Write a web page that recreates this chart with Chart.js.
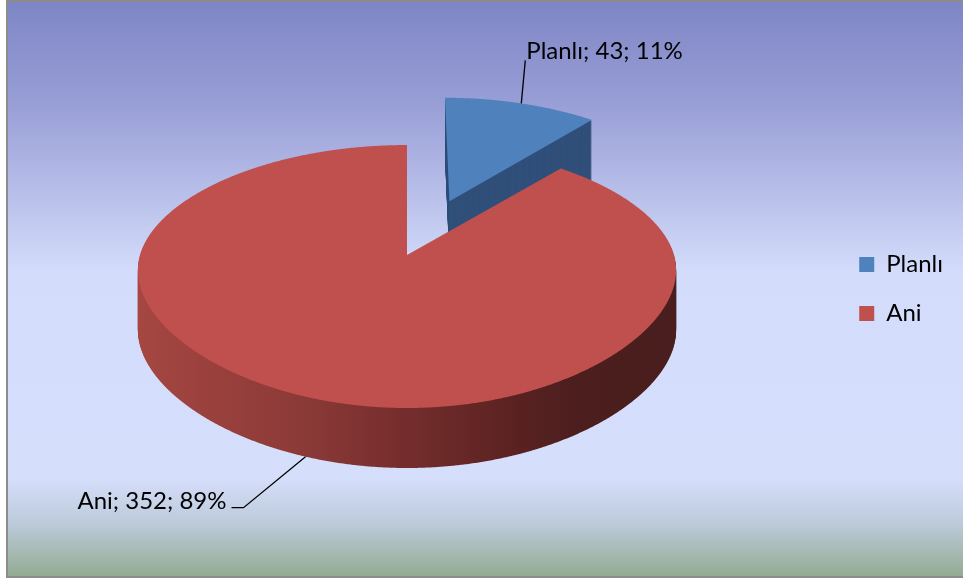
<!DOCTYPE html>
<html><head><meta charset="utf-8">
<script src="https://cdn.jsdelivr.net/npm/chart.js@4.4.1/dist/chart.umd.min.js"></script>
<style>
html,body{margin:0;padding:0;background:#ffffff;}
canvas{display:block;}
</style></head><body>
<canvas id="c" width="963" height="581"></canvas>
<script>
// ---- data ----
const categories = ['Planlı', 'Ani'];
const values = [43, 352];
const sliceColors = ['#4F81BD', '#C0504D'];
const explodeOffsets = [116, 0];

// ---- style / geometry of the pseudo-3D view ----
const VIEW = { cx: 407, cy: 255, a: 267, b: 117.5, distX: 8, distBack: 14.6, distFront: 4.31, depth: 60 };
const FONT = '24px Lato, "Open Sans", sans-serif';

function proj(u, w) {
  const fx = VIEW.distX / (VIEW.distX - w);
  const D = w < 0 ? VIEW.distBack : VIEW.distFront;
  const fy = D / (D - w);
  return [VIEW.cx + VIEW.a * u * fx, VIEW.cy + VIEW.b * w * fy];
}

function slicePath(ctx, s, dy) {
  ctx.beginPath();
  let p = proj(s.ox, s.ow);
  ctx.moveTo(p[0], p[1] + dy);
  const n = Math.max(12, Math.ceil((s.end - s.start) / 0.005));
  for (let i = 0; i <= n; i++) {
    const ang = s.start + (s.end - s.start) * i / n;
    p = proj(s.ox + Math.cos(ang), s.ow + Math.sin(ang));
    ctx.lineTo(p[0], p[1] + dy);
  }
  ctx.closePath();
}

const bgPlugin = {
  id: 'bg',
  beforeDraw(chart) {
    const ctx = chart.ctx;
    ctx.save();
    ctx.fillStyle = '#ffffff';
    ctx.fillRect(0, 0, chart.width, chart.height);
    const g = ctx.createLinearGradient(0, 2, 0, 576);
    g.addColorStop(0, '#7f86c5');
    g.addColorStop(0.17, '#979dd5');
    g.addColorStop(0.47, '#d3dcfb');
    g.addColorStop(0.83, '#d5defb');
    g.addColorStop(0.91, '#bccad9');
    g.addColorStop(1, '#93ab93');
    ctx.fillStyle = g;
    ctx.fillRect(8, 2, chart.width - 8, 574);
    ctx.fillStyle = '#8c8c8c';
    ctx.fillRect(6, 0, chart.width - 6, 2);
    ctx.fillRect(6, 0, 2, 578);
    ctx.fillRect(6, 576, chart.width - 6, 2);
    ctx.restore();
  }
};

const pie3dPlugin = {
  id: 'pie3d',
  beforeDatasetsDraw(chart) {
    const ctx = chart.ctx;
    const meta = chart.getDatasetMeta(0);
    const ds = chart.data.datasets[0];
    const total = ds.data.reduce((a, b) => a + b, 0);
    const slices = meta.data.map((el, i) => {
      const start = el.startAngle, end = el.endAngle;
      const mid = (start + end) / 2;
      const e = (el.options.offset || 0) / el.outerRadius;
      return {
        i, start, end, mid,
        ox: e * Math.cos(mid), ow: e * Math.sin(mid),
        color: ds.backgroundColor[i],
        label: chart.data.labels[i] + '; ' + ds.data[i] + '; ' + Math.round(ds.data[i] / total * 100) + '%'
      };
    });
    const order = slices.slice().sort((p, q) => (p.ow + 0.5 * Math.sin(p.mid)) - (q.ow + 0.5 * Math.sin(q.mid)));

    ctx.save();
    for (const s of order) {
      let side;
      if (s.i === 1) {
        const g = ctx.createLinearGradient(VIEW.cx - VIEW.a, 0, VIEW.cx + VIEW.a, 0);
        g.addColorStop(0, '#a54641');
        g.addColorStop(0.3, '#8c3a38');
        g.addColorStop(0.5, '#742d2c');
        g.addColorStop(0.7, '#5a2221');
        g.addColorStop(0.82, '#4c1e1e');
        g.addColorStop(1, '#4a1e1e');
        side = g;
      } else {
        side = '#30507a';
      }
      ctx.fillStyle = side;
      for (let d = VIEW.depth; d >= 1; d--) {
        slicePath(ctx, s, d);
        ctx.fill();
      }
      ctx.fillStyle = s.color;
      slicePath(ctx, s, 0);
      ctx.fill();
    }

    // data labels with leader lines
    ctx.font = FONT;
    ctx.fillStyle = '#000';
    ctx.strokeStyle = '#000';
    ctx.lineWidth = 1.3;
    ctx.textBaseline = 'alphabetic';
    for (const s of slices) {
      const front = Math.sin(s.mid) > 0;
      const p = proj(s.ox + Math.cos(s.mid), s.ow + Math.sin(s.mid));
      const ax = p[0], ay = p[1] + (front ? VIEW.depth : 0);
      ctx.beginPath();
      ctx.moveTo(ax, ay);
      if (!front) {
        const ex = ax + 4, ey = ay - 43;
        ctx.lineTo(ex, ey);
        ctx.stroke();
        ctx.textAlign = 'left';
        ctx.fillText(s.label, ex + 1, ey - 1);
      } else {
        const dir = Math.cos(s.mid) < 0 ? -1 : 1;
        const ex = ax + dir * 62, ey = ay + 51;
        ctx.lineTo(ex, ey);
        ctx.lineTo(ex + dir * 12, ey);
        ctx.stroke();
        ctx.textAlign = dir < 0 ? 'right' : 'left';
        ctx.fillText(s.label, ex + dir * 17, ey + 1);
      }
    }
    ctx.restore();
    return false;
  }
};

new Chart(document.getElementById('c'), {
  type: 'pie',
  data: {
    labels: categories,
    datasets: [{
      data: values,
      backgroundColor: sliceColors,
      borderWidth: 0,
      offset: explodeOffsets
    }]
  },
  options: {
    responsive: false,
    animation: false,
    devicePixelRatio: 1,
    events: [],
    layout: { padding: { right: 10, bottom: 3 } },
    plugins: {
      legend: {
        position: 'right',
        labels: {
          boxWidth: 15, boxHeight: 15, padding: 25, color: '#000000',
          font: { family: 'Lato, "Open Sans", sans-serif', size: 24 }
        }
      },
      tooltip: { enabled: false }
    }
  },
  plugins: [bgPlugin, pie3dPlugin]
});
</script>
</body></html>
